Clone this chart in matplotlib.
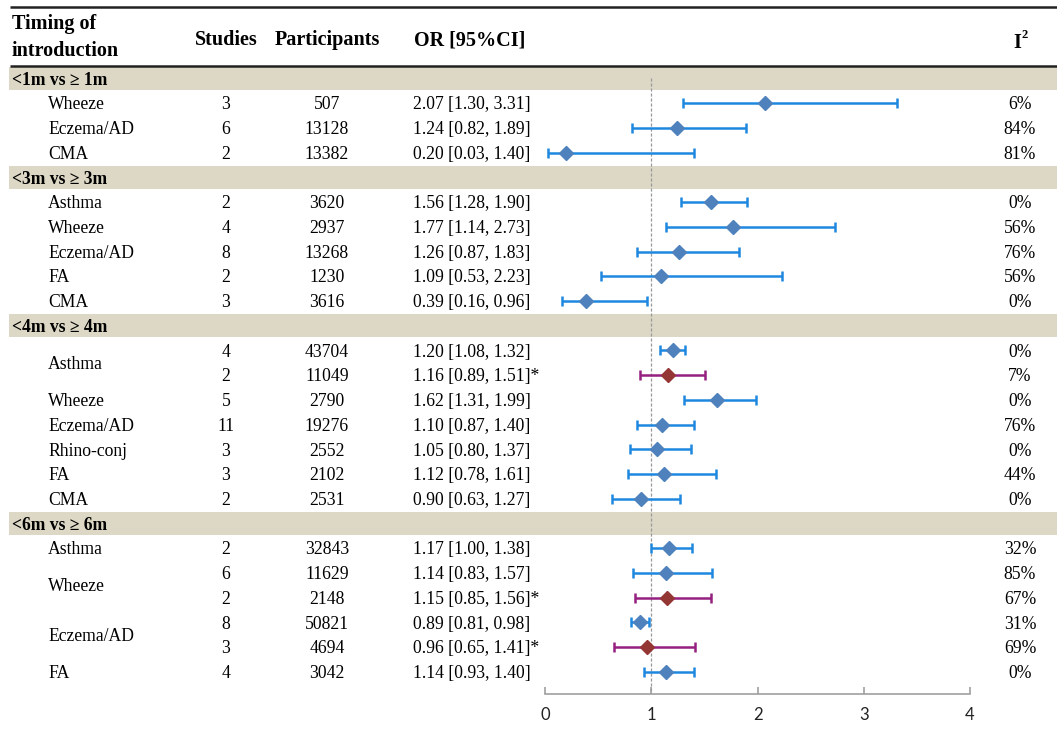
import matplotlib
matplotlib.use("Agg")
import matplotlib.pyplot as plt

# ---------------- data ----------------
sections = ["<1m vs \u2265 1m", "<3m vs \u2265 3m", "<4m vs \u2265 4m", "<6m vs \u2265 6m"]
section_rows = [0, 3, 8, 15]

row_labels = ["Wheeze", "Eczema/AD", "CMA",
              "Asthma", "Wheeze", "Eczema/AD", "FA", "CMA",
              "Asthma", "", "Wheeze", "Eczema/AD", "Rhino-conj", "FA", "CMA",
              "Asthma", "Wheeze", "", "Eczema/AD", "", "FA"]
studies = [3, 6, 2,
           2, 4, 8, 2, 3,
           4, 2, 5, 11, 3, 3, 2,
           2, 6, 2, 8, 3, 4]
participants = [507, 13128, 13382,
                3620, 2937, 13268, 1230, 3616,
                43704, 11049, 2790, 19276, 2552, 2102, 2531,
                32843, 11629, 2148, 50821, 4694, 3042]
odds = [2.07, 1.24, 0.20,
        1.56, 1.77, 1.26, 1.09, 0.39,
        1.20, 1.16, 1.62, 1.10, 1.05, 1.12, 0.90,
        1.17, 1.14, 1.15, 0.89, 0.96, 1.14]
ci_low = [1.30, 0.82, 0.03,
          1.28, 1.14, 0.87, 0.53, 0.16,
          1.08, 0.89, 1.31, 0.87, 0.80, 0.78, 0.63,
          1.00, 0.83, 0.85, 0.81, 0.65, 0.93]
ci_high = [3.31, 1.89, 1.40,
           1.90, 2.73, 1.83, 2.23, 0.96,
           1.32, 1.51, 1.99, 1.40, 1.37, 1.61, 1.27,
           1.38, 1.57, 1.56, 0.98, 1.41, 1.40]
i2 = ["6%", "84%", "81%",
      "0%", "56%", "76%", "56%", "0%",
      "0%", "7%", "0%", "76%", "0%", "44%", "0%",
      "32%", "85%", "67%", "31%", "69%", "0%"]
sensitivity = [False, False, False,
               False, False, False, False, False,
               False, True, False, False, False, False, False,
               False, False, True, False, True, False]
# merged labels spanning two rows (label, first data-row index)
merged = [("Asthma", 8), ("Wheeze", 16), ("Eczema/AD", 18)]
x_ticks = [0, 1, 2, 3, 4]

# ---------------- layout ----------------
W, H = 1057, 731
SERIF = ["Liberation Serif", "DejaVu Serif"]
FS = 12.7
HFS = 14.5
row0_px, row_h = 78.5, 24.72
TXT_OFF = 0.07  # small downward nudge of text (in row units)

fig = plt.figure(figsize=(W / 100, H / 100), dpi=100)
bg = fig.add_axes([0, 0, 1, 1])
bg.set_xlim(0, W)
bg.set_ylim((H - row0_px) / row_h, -row0_px / row_h)
bg.axis("off")

# table row positions (section bands interleaved)
table_pos = []
sec_pos = []
pos = 0
for s, start in enumerate(section_rows):
    end = section_rows[s + 1] if s + 1 < len(section_rows) else len(odds)
    sec_pos.append(pos)
    pos += 1
    for k in range(start, end):
        table_pos.append(pos)
        pos += 1

def ypx(p):
    return (p - row0_px) / row_h

# header rules
bg.plot([10, W], [ypx(7)] * 2, color="#222222", lw=1.8, solid_capstyle="butt")
bg.plot([10, W], [ypx(66)] * 2, color="#222222", lw=1.8, solid_capstyle="butt")

# header text
hy = ypx(40)
bg.text(12, ypx(24), "Timing of", family=SERIF, fontsize=HFS, weight="bold", va="center", ha="left")
bg.text(12, ypx(51), "introduction", family=SERIF, fontsize=HFS, weight="bold", va="center", ha="left")
bg.text(226, hy, "Studies", family=SERIF, fontsize=HFS, weight="bold", va="center", ha="center")
bg.text(327, hy, "Participants", family=SERIF, fontsize=HFS, weight="bold", va="center", ha="center")
bg.text(470, hy, "OR [95%CI]", family=SERIF, fontsize=HFS, weight="bold", va="center", ha="center")
bg.text(1021, ypx(43), "I", family=SERIF, fontsize=HFS, weight="bold", va="center", ha="right")
bg.text(1022, ypx(35), "2", family=SERIF, fontsize=9, weight="bold", va="center", ha="left")

# section bands
for s, p in enumerate(sec_pos):
    bg.axhspan(p - 0.46, p + 0.46, xmin=9 / W, xmax=1.0, color="#DDD8C5", lw=0, zorder=0)
    bg.text(12, p + TXT_OFF, sections[s], family=SERIF, fontsize=FS, weight="bold", va="center", ha="left")

merged_first = {m[1]: m[0] for m in merged}
for k in range(len(odds)):
    p = table_pos[k] + TXT_OFF
    if k in merged_first:
        bg.text(48, p + 0.5, merged_first[k], family=SERIF, fontsize=FS, va="center", ha="left")
    elif row_labels[k]:
        bg.text(48, p, row_labels[k], family=SERIF, fontsize=FS, va="center", ha="left")
    bg.text(226, p, str(studies[k]), family=SERIF, fontsize=FS, va="center", ha="center")
    bg.text(327, p, str(participants[k]), family=SERIF, fontsize=FS, va="center", ha="center")
    star = "*" if sensitivity[k] else ""
    bg.text(413, p, f"{odds[k]:.2f} [{ci_low[k]:.2f}, {ci_high[k]:.2f}]{star}",
            family=SERIF, fontsize=FS, va="center", ha="left")
    bg.text(1020, p, i2[k], family=SERIF, fontsize=FS, va="center", ha="center")

# ---------------- forest axes ----------------
ax_top_px, ax_bot_px = 68, 694
x0_px, x4_px = 545, 970
ax = fig.add_axes([x0_px / W, (H - ax_bot_px) / H, (x4_px - x0_px) / W, (ax_bot_px - ax_top_px) / H])
ax.patch.set_alpha(0)
ax.set_xlim(0, 4)
ax.set_ylim(ypx(ax_bot_px), ypx(ax_top_px))
for sp in ["top", "left", "right"]:
    ax.spines[sp].set_visible(False)
ax.spines["bottom"].set_color("#A0A0A0")
ax.spines["bottom"].set_linewidth(1.2)
ax.set_yticks([])
ax.set_xticks(x_ticks)
ax.set_xticklabels([str(t) for t in x_ticks], family="Lato", fontsize=12, color="#222222")
ax.tick_params(axis="x", direction="in", length=5, width=1.2, color="#A0A0A0", pad=9)

ax.plot([1, 1], [ypx(78), ypx(ax_bot_px)], ls=(0, (2.5, 1.5)), color="#999999", lw=0.9, zorder=1)

for k in range(len(odds)):
    p = table_pos[k]
    if sensitivity[k]:
        lc, mc = "#95207F", "#943634"
    else:
        lc, mc = "#1E88E0", "#4F81BD"
    ax.errorbar(odds[k], p, xerr=[[odds[k] - ci_low[k]], [ci_high[k] - odds[k]]],
                fmt="none", ecolor=lc, elinewidth=1.8, capsize=3.5, capthick=1.8, zorder=2)
    ax.plot(odds[k], p, marker="D", ms=7, color=mc, mec=mc, ls="none", zorder=3)

fig.savefig("out.png", dpi=100)
